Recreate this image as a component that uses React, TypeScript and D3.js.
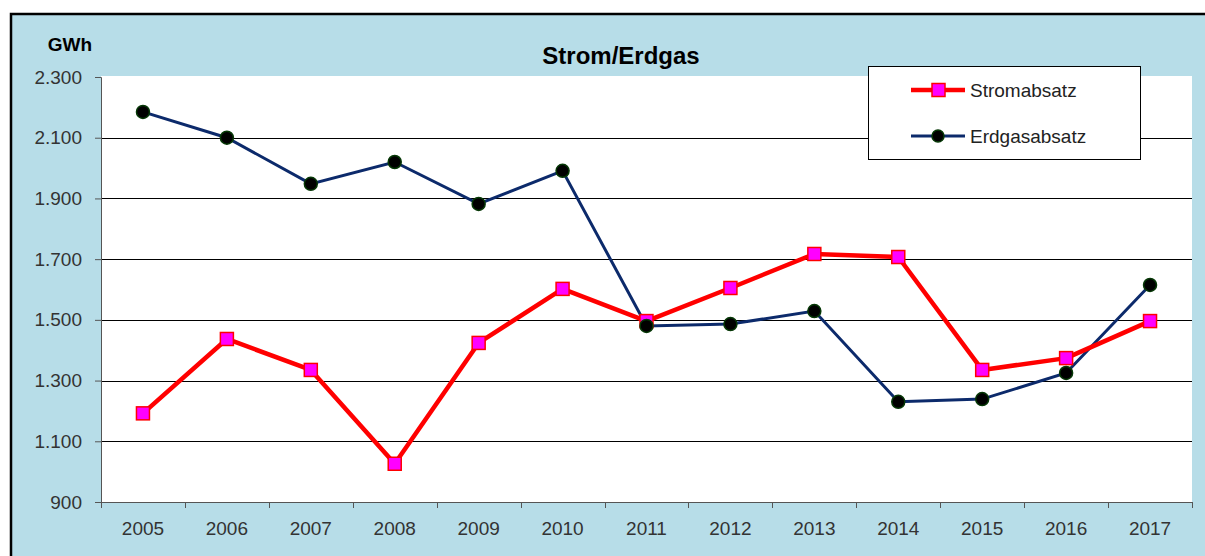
import { useEffect, useRef } from 'react';
import * as d3 from 'd3';

// Strom- und Erdgasabsatz in GWh, 2005–2017
const YEARS = ['2005', '2006', '2007', '2008', '2009', '2010', '2011', '2012', '2013', '2014', '2015', '2016', '2017'];
const STROM = [1192, 1437, 1335, 1026, 1424, 1602, 1496, 1605, 1717, 1707, 1335, 1374, 1496];
const ERDGAS = [2185, 2100, 1948, 2020, 1882, 1991, 1480, 1486, 1529, 1230, 1239, 1325, 1615];
const Y_TICKS = [900, 1100, 1300, 1500, 1700, 1900, 2100, 2300];

const de = d3.formatLocale({ decimal: ',', thousands: '.', grouping: [3], currency: ['', ' €'] });
const fmt = de.format(',d');

export default function App() {
  const svgRef = useRef<SVGSVGElement>(null);

  useEffect(() => {
    if (!svgRef.current) return;
    const svg = d3.select(svgRef.current);
    svg.selectAll('*').remove();

    const width = 1205;
    const height = 556;
    const margin = { top: 77, right: 13, bottom: 54, left: 101 };
    const w = width - margin.left - margin.right;
    const h = height - margin.top - margin.bottom;
    const font = 'Liberation Sans, Arial, sans-serif';

    // outer chart background + frame
    svg.append('rect')
      .attr('x', 11).attr('y', 14)
      .attr('width', width + 20).attr('height', height + 20)
      .attr('fill', '#b7dde8')
      .attr('stroke', '#000').attr('stroke-width', 2.5);

    const g = svg.append('g').attr('transform', `translate(${margin.left},${margin.top})`);

    const x = d3.scaleBand().domain(YEARS).range([0, w]);
    const y = d3.scaleLinear().domain([900, 2300]).range([h, 0]);

    // plot area
    g.append('rect')
      .attr('x', 0).attr('y', -1)
      .attr('width', w).attr('height', h + 1)
      .attr('fill', '#fff');

    // gridlines
    g.selectAll('line.grid')
      .data(Y_TICKS.slice(1, -1))
      .join('line')
      .attr('class', 'grid')
      .attr('x1', 0).attr('x2', w)
      .attr('y1', d => Math.round(y(d)) + 0.5).attr('y2', d => Math.round(y(d)) + 0.5)
      .attr('stroke', '#000').attr('stroke-width', 1);

    // y axis
    const yAxis = g.append('g')
      .call(d3.axisLeft(y).tickValues(Y_TICKS).tickSize(6).tickPadding(13).tickFormat(d => fmt(d as number)));
    yAxis.select('.domain').attr('stroke', '#555');
    yAxis.selectAll('.tick line').attr('stroke', '#555');
    yAxis.selectAll('text').attr('font-family', font).attr('font-size', 19).attr('fill', '#333');

    // x axis with ticks at band edges
    const xAxis = g.append('g').attr('transform', `translate(0,${h})`);
    xAxis.append('line').attr('x1', 0).attr('x2', w).attr('y1', 0.5).attr('y2', 0.5).attr('stroke', '#555');
    xAxis.selectAll('line.tk')
      .data(YEARS.concat(['end']))
      .join('line')
      .attr('class', 'tk')
      .attr('x1', (d, i) => Math.round(i * x.bandwidth()) + 0.5)
      .attr('x2', (d, i) => Math.round(i * x.bandwidth()) + 0.5)
      .attr('y1', 0).attr('y2', 6)
      .attr('stroke', '#555');
    xAxis.selectAll('text')
      .data(YEARS)
      .join('text')
      .attr('x', d => x(d)! + x.bandwidth() / 2)
      .attr('y', 33)
      .attr('text-anchor', 'middle')
      .attr('font-family', font).attr('font-size', 19).attr('fill', '#333')
      .text(d => d);

    const cx = (i: number) => x(YEARS[i])! + x.bandwidth() / 2;
    const line = d3.line<number>().x((d, i) => cx(i)).y(d => y(d));

    // Erdgas
    g.append('path').datum(ERDGAS)
      .attr('d', line).attr('fill', 'none')
      .attr('stroke', '#0c2a6b').attr('stroke-width', 3);

    // Strom
    g.append('path').datum(STROM)
      .attr('d', line).attr('fill', 'none')
      .attr('stroke', '#ff0000').attr('stroke-width', 4.5).attr('stroke-linejoin', 'round');

    g.selectAll('rect.sm')
      .data(STROM)
      .join('rect')
      .attr('class', 'sm')
      .attr('x', (d, i) => cx(i) - 6.5).attr('y', d => y(d) - 6.5)
      .attr('width', 13).attr('height', 13)
      .attr('fill', '#ff00ff').attr('stroke', '#ff0000').attr('stroke-width', 1.5);

    g.selectAll('circle.em')
      .data(ERDGAS)
      .join('circle')
      .attr('class', 'em')
      .attr('cx', (d, i) => cx(i)).attr('cy', d => y(d))
      .attr('r', 6.5)
      .attr('fill', '#000').attr('stroke', '#063806').attr('stroke-width', 1.5);

    // titles
    svg.append('text')
      .attr('x', 621).attr('y', 64)
      .attr('text-anchor', 'middle')
      .attr('font-family', font).attr('font-size', 24).attr('font-weight', 'bold')
      .text('Strom/Erdgas');
    svg.append('text')
      .attr('x', 70).attr('y', 51)
      .attr('text-anchor', 'middle')
      .attr('font-family', font).attr('font-size', 19).attr('font-weight', 'bold')
      .text('GWh');

    // legend
    const lg = svg.append('g').attr('transform', 'translate(868,66)');
    lg.append('rect')
      .attr('x', 0.5).attr('y', 0.5).attr('width', 272).attr('height', 93)
      .attr('fill', '#fff').attr('stroke', '#000');
    const items = [
      { name: 'Stromabsatz', color: '#ff0000', sw: 4.5, cy: 24 },
      { name: 'Erdgasabsatz', color: '#0c2a6b', sw: 3, cy: 70 },
    ];
    items.forEach((it, i) => {
      lg.append('line')
        .attr('x1', 43).attr('x2', 97).attr('y1', it.cy).attr('y2', it.cy)
        .attr('stroke', it.color).attr('stroke-width', it.sw);
      if (i === 0) {
        lg.append('rect').attr('x', 64).attr('y', it.cy - 6.5).attr('width', 13).attr('height', 13)
          .attr('fill', '#ff00ff').attr('stroke', '#ff0000').attr('stroke-width', 1.5);
      } else {
        lg.append('circle').attr('cx', 70).attr('cy', it.cy).attr('r', 6)
          .attr('fill', '#000').attr('stroke', '#063806').attr('stroke-width', 1.5);
      }
      lg.append('text')
        .attr('x', 102).attr('y', it.cy)
        .attr('dominant-baseline', 'central')
        .attr('font-family', font).attr('font-size', 19).attr('fill', '#222')
        .text(it.name);
    });
  }, []);

  return (
    <div style={{ position: 'absolute', left: 0, top: 0, width: 1205, height: 556, background: '#fff' }}>
      <svg ref={svgRef} width={1205} height={556} style={{ display: 'block' }} />
    </div>
  );
}
